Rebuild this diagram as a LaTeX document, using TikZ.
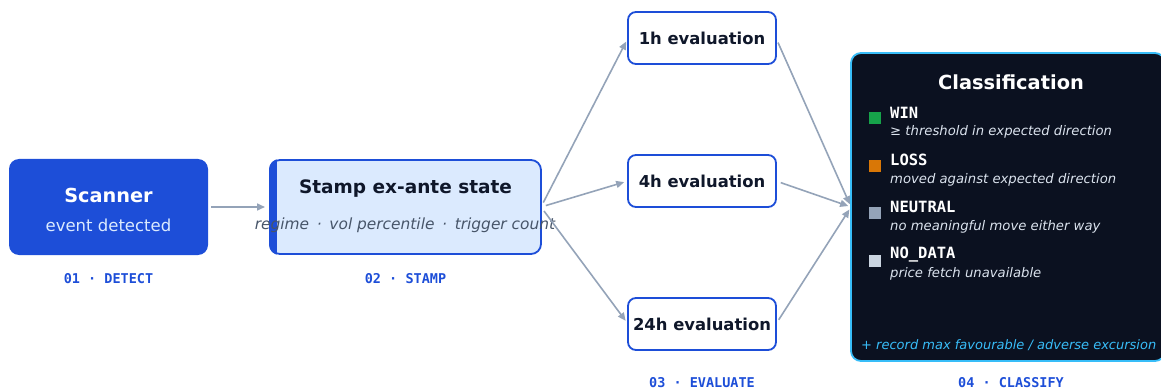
\documentclass[tikz,border=0pt]{standalone}
\usepackage{fontspec}
\setmainfont{DejaVu Sans}
\setmonofont{DejaVu Sans Mono}
\usetikzlibrary{arrows.meta}
\definecolor{brand}{HTML}{1D4ED8}
\definecolor{stampfill}{HTML}{DBEAFE}
\definecolor{ink}{HTML}{0F172A}
\definecolor{slate}{HTML}{475569}
\definecolor{conn}{HTML}{94A3B8}
\definecolor{night}{HTML}{0B1120}
\definecolor{sky}{HTML}{38BDF8}
\definecolor{winc}{HTML}{16A34A}
\definecolor{lossc}{HTML}{D97706}
\definecolor{neutc}{HTML}{94A3B8}
\definecolor{nodc}{HTML}{CBD5E1}
\definecolor{softtext}{HTML}{DBE3EE}
\definecolor{scansub}{HTML}{DBEAFE}
\tikzset{
  panel/.style={rectangle, rounded corners=10pt, outer sep=0pt, inner sep=0pt},
  evalbox/.style={rectangle, rounded corners=8pt, draw=brand, line width=1.8pt, fill=white,
    minimum width=148pt, minimum height=52pt, outer sep=0pt, inner sep=0pt,
    font=\bfseries\fontsize{16.4}{19}\selectfont, text=ink},
  steplabel/.style={font=\ttfamily\bfseries\fontsize{13.5}{16}\selectfont, text=brand, inner sep=0pt},
  flow/.style={draw=conn, line width=1.6pt, -{Triangle[length=8pt,width=7pt]}},
  catname/.style={anchor=west, inner sep=0pt, font=\ttfamily\bfseries\fontsize{15.5}{18}\selectfont, text=white},
  catdesc/.style={anchor=west, inner sep=0pt, font=\itshape\fontsize{13.2}{16}\selectfont, text=softtext},
  swatch/.style={minimum size=12.5pt, inner sep=0pt, outer sep=0pt},
}
\begin{document}
\begin{tikzpicture}[x=1pt,y=-1pt]
\useasboundingbox (0,0) rectangle (1161,390);
\clip (0,0) rectangle (1161,390);
% Scanner
\node[panel, fill=brand, minimum width=199pt, minimum height=96pt] (scan) at (108.5,207) {};
\node[inner sep=0pt, text=white, font=\bfseries\fontsize{19.3}{23}\selectfont] (scant) at (108.5,195) {Scanner};
\node[inner sep=0pt, text=scansub, font=\fontsize{16.5}{19}\selectfont] (scans) at (108.5,225) {event detected};
\node[steplabel] (l1) at (108.5,279) {01 · DETECT};
% Stamp
\node[panel, fill=stampfill, draw=brand, line width=1.8pt, minimum width=271pt, minimum height=94pt] (stamp) at (405.5,207) {};
\begin{scope}
  \clip[rounded corners=10pt] (269.1,159.1) rectangle (541.9,254.9);
  \fill[brand] (268,158) rectangle (277,256);
\end{scope}
\node[inner sep=0pt, text=ink, font=\bfseries\fontsize{18.5}{22}\selectfont] (stampt) at (405.5,189) {Stamp ex-ante state};
\node[inner sep=0pt, text=slate, font=\itshape\fontsize{15.4}{18}\selectfont] (stamps) at (405,225) {regime\enspace·\enspace vol percentile\enspace·\enspace trigger count};
\node[steplabel] (l2) at (405.5,279) {02 · STAMP};
% Evaluations
\node[evalbox] (e1) at (702,38) {1h evaluation};
\node[evalbox] (e4) at (702,181) {4h evaluation};
\node[evalbox] (e24) at (702,324) {24h evaluation};
\node[steplabel] (l3) at (702,383) {03 · EVALUATE};
% Classification
\node[panel, fill=night, draw=sky, line width=1.8pt, minimum width=314pt, minimum height=308pt] (cls) at (1008,207) {};
\node[inner sep=0pt, text=white, font=\bfseries\fontsize{19.4}{23}\selectfont] (clst) at (1011,82) {Classification};
\node[swatch, fill=winc] (s1) at (875,118) {};
\node[catname] (n1) at (890,113) {WIN};
\node[catdesc] (d1) at (890,132) {≥ threshold in expected direction};
\node[swatch, fill=lossc] (s2) at (875,166) {};
\node[catname] (n2) at (890,160) {LOSS};
\node[catdesc] (d2) at (890,180) {moved against expected direction};
\node[swatch, fill=neutc] (s3) at (875,213) {};
\node[catname] (n3) at (890,207) {NEUTRAL};
\node[catdesc] (d3) at (890,227) {no meaningful move either way};
\node[swatch, fill=nodc] (s4) at (875,261) {};
\node[catname] (n4) at (890,255) {NO\_DATA};
\node[catdesc] (d4) at (890,274) {price fetch unavailable};
\node[anchor=west, inner sep=0pt, text=sky, font=\itshape\fontsize{13}{16}\selectfont] (foot) at (861,345) {+ record max favourable / adverse excursion};
\node[steplabel] (l4) at (1011,383) {04 · CLASSIFY};
% Connectors
\draw[flow, shorten <=3pt, shorten >=5pt] (scan.east) -- (stamp.west);
\draw[flow, shorten <=5pt, shorten >=4pt] (stamp.east) -- (e1.west);
\draw[flow, shorten <=5pt, shorten >=4pt] (stamp.east) -- (e4.west);
\draw[flow, shorten <=5pt, shorten >=4pt] (stamp.east) -- (e24.west);
\draw[flow, shorten <=5pt, shorten >=3pt] (e1.east) -- (cls.west);
\draw[flow, shorten <=5pt, shorten >=3pt] (e4.east) -- (cls.west);
\draw[flow, shorten <=5pt, shorten >=3pt] (e24.east) -- (cls.west);
\end{tikzpicture}
\end{document}
